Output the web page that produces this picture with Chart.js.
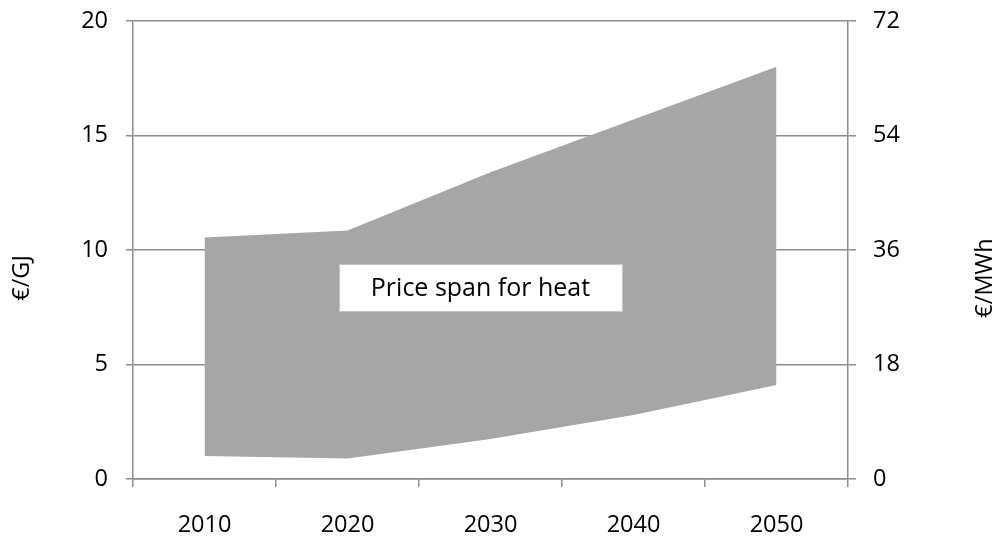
<!DOCTYPE html>
<html>
<head>
<meta charset="utf-8">
<script src="https://cdn.jsdelivr.net/npm/chart.js@4.4.1/dist/chart.umd.min.js"></script>
<style>
  body { margin: 0; background: #fff; }
  #wrap { width: 998px; height: 537px; }
</style>
</head>
<body>
<div id="wrap"><canvas id="heat"></canvas></div>
<script>
var years = ["2010", "2020", "2030", "2040", "2050"];
var lowPrice = [1.0, 0.9, 1.75, 2.8, 4.1];
var highPrice = [10.55, 10.85, 13.4, 15.7, 18.0];
var gjTicks = [0, 5, 10, 15, 20];
var mwhTicks = [0, 18, 36, 54, 72];
var boxText = "Price span for heat";

var gridColor = "#8c8c8c";
var fillColor = "#a6a6a6";
var font = "'Open Sans', sans-serif";

Chart.defaults.font.family = font;
Chart.defaults.color = "#000";

// axis titles, both read bottom to top like the original
var axisTitles = {
  id: "axisTitles",
  afterDraw: function(chart) {
    var ctx = chart.ctx;
    var a = chart.chartArea;
    var midY = (a.top + a.bottom) / 2 + 28;
    ctx.save();
    ctx.font = "23.5px " + font;
    ctx.fillStyle = "#000";
    ctx.textAlign = "center";
    ctx.textBaseline = "middle";
    [[22, "€/GJ"], [chart.width - 13, "€/MWh"]].forEach(function(t) {
      ctx.save();
      ctx.translate(t[0], midY);
      ctx.rotate(-Math.PI / 2);
      ctx.fillText(t[1], 0, 0);
      ctx.restore();
    });
    ctx.restore();
  }
};

// white label box inside the area
var spanLabel = {
  id: "spanLabel",
  afterDatasetsDraw: function(chart) {
    var ctx = chart.ctx;
    var cx = chart.scales.x.getPixelForValue(1.93);
    var cy = chart.scales.y.getPixelForValue(8.36);
    var w = 283, h = 47;
    ctx.save();
    ctx.fillStyle = "#fff";
    ctx.fillRect(cx - w / 2, cy - h / 2, w, h);
    ctx.strokeStyle = "#c8c8c8";
    ctx.lineWidth = 1;
    ctx.strokeRect(Math.round(cx - w / 2) + 0.5, Math.round(cy - h / 2) + 0.5, w, h);
    ctx.font = "25px " + font;
    ctx.fillStyle = "#000";
    ctx.textAlign = "center";
    ctx.textBaseline = "middle";
    ctx.fillText(boxText, cx, cy + 1);
    ctx.restore();
  }
};

function fixY(width) {
  return function(s) {
    s.width = width;
    s.paddingTop = 0;
    s.paddingBottom = 0;
  };
}

new Chart(document.getElementById("heat"), {
  type: "line",
  data: {
    labels: years,
    datasets: [{
      label: "low",
      data: lowPrice,
      borderWidth: 0,
      pointRadius: 0,
      fill: false
    }, {
      label: "high",
      data: highPrice,
      borderWidth: 0,
      pointRadius: 0,
      backgroundColor: fillColor,
      fill: "-1"
    }]
  },
  options: {
    responsive: true,
    maintainAspectRatio: false,
    animation: false,
    layout: { padding: { top: 21, bottom: 0, left: 0, right: 0 } },
    plugins: { legend: { display: false }, tooltip: { enabled: false } },
    scales: {
      x: {
        offset: true,
        grid: { offset: true, drawOnChartArea: false, color: gridColor, lineWidth: 1.5, tickLength: 8 },
        border: { color: gridColor, width: 1.5 },
        ticks: { font: { size: 23.5 }, padding: 24, maxRotation: 0 },
        afterFit: function(s) { s.height = 58; s.paddingLeft = 0; s.paddingRight = 0; }
      },
      y: {
        position: "left",
        min: 0, max: 20,
        afterBuildTicks: function(s) { s.ticks = gjTicks.map(function(v) { return { value: v }; }); },
        grid: { color: gridColor, lineWidth: 1.5, tickLength: 7 },
        border: { color: gridColor, width: 1.5 },
        ticks: { font: { size: 23.5 }, padding: 18 },
        afterFit: fixY(133)
      },
      y2: {
        position: "right",
        min: 0, max: 72,
        afterBuildTicks: function(s) { s.ticks = mwhTicks.map(function(v) { return { value: v }; }); },
        grid: { drawOnChartArea: false, color: gridColor, lineWidth: 1.5, tickLength: 8 },
        border: { color: gridColor, width: 1.5 },
        ticks: { font: { size: 23.5 }, padding: 17 },
        afterFit: fixY(150)
      }
    }
  },
  plugins: [axisTitles, spanLabel]
});
</script>
</body>
</html>
